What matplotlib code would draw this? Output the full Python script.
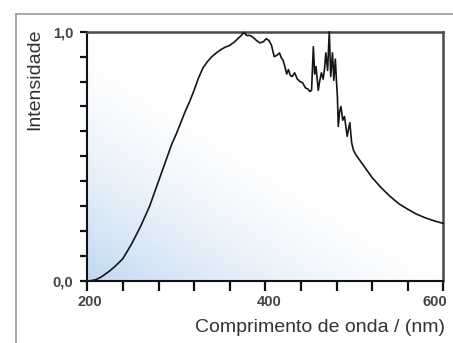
import numpy as np
import matplotlib
matplotlib.use("Agg")
import matplotlib.pyplot as plt
from matplotlib.lines import Line2D
from matplotlib.colors import to_rgb
from matplotlib.transforms import ScaledTranslation

wavelength = [200, 205, 210, 215, 220, 225, 230, 235, 240, 245, 250, 255, 260, 265, 270,
              275, 280, 285, 290, 295, 300, 305, 310, 315, 320, 325, 330, 335, 340, 345,
              350, 355, 360, 365, 370, 373, 376, 379, 383, 387, 390, 394, 398, 401, 404,
              407, 410, 413, 416, 418, 420, 422, 424, 426, 428, 430, 433, 436, 439, 442,
              445, 448, 450, 452, 454, 455.5, 457, 459.5, 461, 463, 465, 466.5, 468, 470,
              471.9, 473.5, 475.5, 477, 478.7, 480, 481, 482, 483.5, 485, 487, 489, 490.5,
              492, 493.5, 495, 497, 499, 502, 506, 510, 515, 520, 530, 540, 550, 560, 570,
              580, 590, 600]
intensity = [0.0, 0.002, 0.006, 0.015, 0.027, 0.04, 0.055, 0.072, 0.09, 0.12, 0.15, 0.185,
             0.22, 0.26, 0.3, 0.35, 0.4, 0.45, 0.5, 0.55, 0.59, 0.635, 0.68, 0.72, 0.765,
             0.815, 0.855, 0.88, 0.9, 0.915, 0.928, 0.938, 0.945, 0.958, 0.975, 0.985, 0.997,
             0.985, 0.985, 0.975, 0.965, 0.955, 0.96, 0.972, 0.965, 0.945, 0.9, 0.905, 0.915,
             0.895, 0.885, 0.86, 0.83, 0.848, 0.825, 0.82, 0.835, 0.81, 0.8, 0.795, 0.775,
             0.77, 0.76, 0.765, 0.94, 0.83, 0.86, 0.765, 0.8, 0.835, 0.81, 0.85, 0.915, 0.845,
             1.0, 0.82, 0.915, 0.805, 0.89, 0.8, 0.74, 0.62, 0.68, 0.70, 0.645, 0.66, 0.62,
             0.58, 0.61, 0.635, 0.555, 0.525, 0.505, 0.485, 0.465, 0.44, 0.415, 0.375, 0.34,
             0.31, 0.288, 0.268, 0.253, 0.241, 0.231]

x_major = list(range(200, 601, 40))
x_ticklabels = {200: "200", 400: "400", 600: "600"}
y_major = [round(0.1 * i, 1) for i in range(11)]
y_ticklabels = {0.0: "0,0", 1.0: "1,0"}
x_label = "Comprimento de onda / (nm)"
y_label = "Intensidade"

W, H = 453, 343
fig = plt.figure(figsize=(W / 100, H / 100), dpi=100)
fig.patch.set_facecolor("white")

ax = fig.add_axes([87.3 / W, 1 - 281 / H, (443.3 - 87.3) / W, (281 - 31.7) / H])
ax.set_xlim(200, 600)
ax.set_ylim(0, 1)

# background gradient (light blue bottom-left fading to white)
nx, ny = 200, 150
u = np.linspace(0, 1, nx)[None, :]
v = np.linspace(0, 1, ny)[:, None]
s = np.clip((u * 0.9 + v) / 1.0, 0, 1)
t = (1 - s) ** 1.6
blue = np.array(to_rgb("#c0d9f2"))
img = np.ones((ny, nx, 3)) * (1 - t[..., None]) + blue[None, None, :] * t[..., None]
ax.imshow(img, extent=[200, 600, 0, 1], aspect="auto", origin="lower", zorder=0,
          interpolation="bilinear")

ax.plot(wavelength, intensity, color="#151515", lw=1.2, zorder=3, clip_on=False)

for side in ["left", "bottom"]:
    ax.spines[side].set_color("#111111")
    ax.spines[side].set_linewidth(1.5)
for side in ["top", "right"]:
    ax.spines[side].set_color("#4a4a4a")
    ax.spines[side].set_linewidth(1.8)

ax.set_xticks(x_major)
ax.set_xticklabels([x_ticklabels.get(v, "") for v in x_major])
ax.set_yticks(y_major)
ax.set_yticklabels([y_ticklabels.get(v, "") for v in y_major])
ax.tick_params(axis="x", direction="out", length=7, width=1.6, color="#111111",
               pad=3, labelsize=10.5, labelcolor="#444444")
ax.tick_params(axis="y", direction="out", length=5, width=1.6, color="#111111",
               pad=5, labelsize=10.5, labelcolor="#444444")
for lab in ax.get_xticklabels() + ax.get_yticklabels():
    lab.set_fontfamily("Liberation Sans")
    lab.set_fontweight("bold")

offsets = {"200": 3, "400": 4, "600": -8}
for lab in ax.get_xticklabels():
    dx = offsets.get(lab.get_text(), 0)
    if dx:
        lab.set_transform(lab.get_transform() + ScaledTranslation(dx / 100, 0, fig.dpi_scale_trans))

fig.text(35 / W, 1 - 79.5 / H, y_label, rotation=90, ha="center", va="center",
         fontsize=14, color="#333333", family="Liberation Sans")
fig.text(445 / W, 1 - 328 / H, x_label, ha="right", va="center",
         fontsize=14, color="#333333", family="Liberation Sans")

# outer frame lines
fig.add_artist(Line2D([15.5 / W, 15.5 / W], [0, 1 - 14 / H], transform=fig.transFigure,
                      color="#9a9a9a", lw=1.2))
fig.add_artist(Line2D([15.5 / W, 1], [1 - 14 / H, 1 - 14 / H], transform=fig.transFigure,
                      color="#9a9a9a", lw=1.2))

fig.savefig("out.png", dpi=100)
